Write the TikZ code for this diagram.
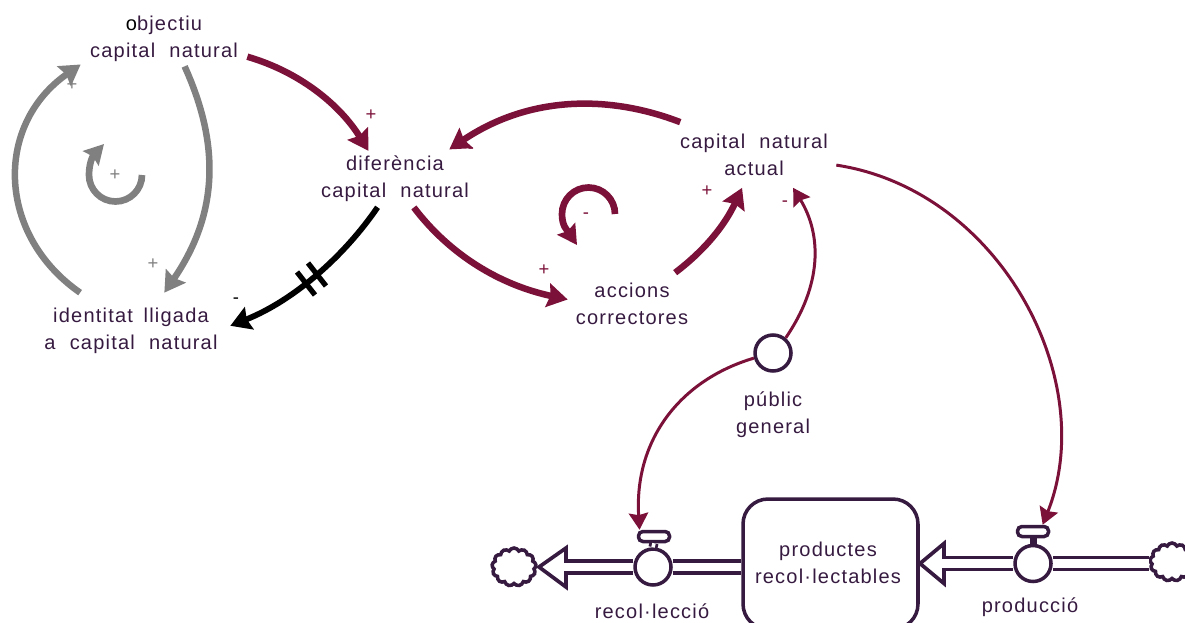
\documentclass[tikz,border=0pt]{standalone}
\usepackage{fontspec}
\setmainfont[LetterSpace=6,WordSpace=2.1]{Liberation Sans}
\usepackage{tikz}
\usetikzlibrary{arrows.meta}
\usetikzlibrary{shapes.symbols}
\definecolor{wine}{HTML}{7B1038}
\definecolor{plum}{HTML}{361A40}
\definecolor{greyloop}{HTML}{808080}
\tikzset{
lbl/.style={align=center,inner sep=0pt,text=plum,font=\fontsize{11.4}{15.3}\selectfont},
sign/.style={inner sep=0pt,font=\fontsize{10.5}{11}\selectfont},
thicklink/.style={line width=3.7pt,-{Stealth[length=11.5pt,width=13.5pt,inset=1.5pt]}},
loopy/.style={line width=3.8pt,-{Stealth[length=11pt,width=12pt,inset=1.5pt]}},
thinlink/.style={line width=1.7pt,wine,-{Stealth[length=9.5pt,width=11pt,inset=1.2pt]}},
valve/.style={circle,draw=plum,fill=white,line width=2pt,minimum size=0.72cm,inner sep=0pt},
bar/.style={rectangle,rounded corners=2.5pt,draw=plum,fill=white,line width=2pt,minimum width=0.62cm,minimum height=0.2cm,inner sep=0pt},
pipe/.style={draw=plum,line width=2.1pt,double=white,double distance=4.8pt},
head/.style={draw=plum,line width=2.1pt,fill=white,line join=miter},
puff/.style={cloud,cloud puffs=13,cloud puff arc=130,aspect=1.15,draw=plum,fill=white,line width=2pt,minimum width=0.88cm,minimum height=0.76cm,inner sep=0pt}
}
\begin{document}
\begin{tikzpicture}[x=0.02cm,y=-0.02cm]
\path[clip,use as bounding box] (0,0) rectangle (1185,622);
\node[lbl,minimum width=3.32cm,minimum height=1.08cm] (obj) at (164,39) {{\color{black}o}bjectiu\\capital natural};
\node[lbl,minimum width=3.2cm,minimum height=1.28cm] (dif) at (395,179) {diferència\\capital natural};
\node[lbl,minimum width=3.28cm,minimum height=1.3cm] (act) at (754,155) {capital natural\\actual};
\node[lbl,minimum width=2.56cm,minimum height=1.24cm] (acc) at (632,304) {accions\\correctores};
\node[lbl,minimum width=3.96cm,minimum height=1.52cm] (ident) at (131,331) {identitat\kern-2pt{} lligada\\a capital natural};
\node[valve] (pub) at (773,353) {};
\node[lbl] (publbl) at (773,415) {públic\\general};
\node[lbl,draw=plum,line width=2pt,rounded corners=0.5cm,minimum width=3.5cm,minimum height=2.6cm] (stock) at (830.5,564) {};
\node[lbl] (stocklbl) at (828,563) {productes\\recol·lectables};
\coordinate (recolhead) at (566,567);
\coordinate (prodhead) at (944,563.5);
\draw[head] (recolhead)++(0,-19)--++(-27,19)--++(27,20)--cycle;
\draw[head] (prodhead)++(0,-20)--++(-24,20)--++(24,20)--cycle;
\node[valve] (recolv) at (653,567) {};
\node[valve] (prodv) at (1033,563.5) {};
\node[bar] (recolbar) at (654,536.5) {};
\node[bar] (prodbar) at (1033,531.5) {};
\node[puff] (recolcloud) at (514,567) {};
\node[puff] (prodcloud) at (1172,562) {};
\node[lbl] (recollbl) at (652,611) {recol·lecció};
\node[lbl] (prodlbl) at (1030,607) {producció};
\draw[pipe,shorten >=-1.3pt] (recolv.west)--(recolhead);
\draw[pipe] (recolv.east)--(recolv.east-|stock.west);
\draw[pipe,shorten >=-1.3pt] (prodv.west)--(prodhead);
\draw[pipe] (prodv.east)--(prodv.east-|prodcloud.west);
\draw[draw=plum,line width=1.6pt,double=white,double distance=2pt] (recolbar.south)--(recolv.north);
\draw[draw=plum,line width=4pt] (prodbar.south)--(prodv.north);
\draw[thicklink,wine,shorten >=-2.8pt] (obj.-12.2) .. controls (300,72) and (340,105) .. (dif.132);
\draw[thicklink,wine,shorten <=-2.8pt] (dif.-56.7) .. controls (450,255) and (500,285) .. (acc.176.4);
\draw[thicklink,wine,shorten >=-2.8pt] (act.156) .. controls (610,95) and (530,95) .. (dif.29);
\draw[thicklink,wine] (acc.36) .. controls (705,250) and (725,225) .. (act.-110);
\draw[thicklink,greyloop] (ident.143.3) .. controls (-3,235) and (-6,125) .. (obj.-163.9);
\draw[thicklink,greyloop] (obj.-53.5) .. controls (218,140) and (221,210) .. (ident.49.9);
\draw[thicklink,black,line width=3.3pt,shorten <=-2.8pt] (dif.-122) .. controls (345,255) and (295,300) .. (ident.3.5);
\draw[black,line width=3pt] (297,272)--(315,295);
\draw[black,line width=3pt] (308,263)--(326,286);
\draw[thinlink] (pub.50) .. controls (822,285) and (822,235) .. (act.-40.2);
\draw[thinlink] (pub.195) .. controls (680,380) and (634,440) .. (recolbar.155);
\draw[thinlink] (act.-7.6) .. controls (1000,190) and (1100,380) .. (prodbar.35);
\draw[loopy,greyloop] (142,175) arc (0:180:26.5) .. controls (89,165) and (92,157) .. (104,144);
\draw[loopy,wine] (615,214) arc (0:-180:26.5) .. controls (562,226) and (567,230) .. (577,245);
\foreach \i/\x/\y/\t/\c in {1/371/115/+/wine,2/471/151/-/wine,3/707/191/+/wine,4/785/204/-/wine,5/544/270/+/wine,6/586/216/-/wine,7/72/85/+/greyloop,8/115/175/+/greyloop,9/153/264/+/greyloop,10/236/301/-/black} {
\node[sign,text=\c] (sign\i) at (\x,\y) {\t};}
\end{tikzpicture}
\end{document}
